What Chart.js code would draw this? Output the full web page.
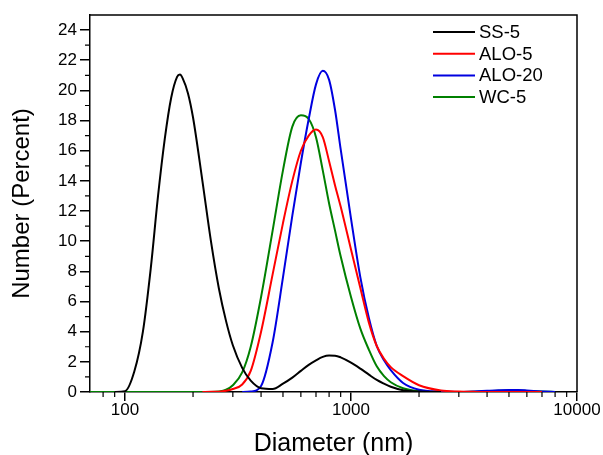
<!DOCTYPE html>
<html><head><meta charset="utf-8">
<script src="https://cdn.jsdelivr.net/npm/chart.js@4/dist/chart.umd.min.js"></script>
<style>html,body{margin:0;padding:0;background:#fff}#wrap{width:603px;height:455px}canvas{display:block}</style>
</head><body><div id="wrap"><canvas id="c" width="603" height="455"></canvas></div>
<script>
// Diameter grid (nm)
const diameters = [70, 80, 90, 100, 110, 120, 130, 140, 150, 160, 170, 175, 180, 190, 200, 220, 240, 260, 280, 300, 330, 360, 400, 450, 500, 550, 600, 650, 700, 750, 800, 850, 900, 1000, 1100, 1200, 1300, 1400, 1500, 1700, 2000, 2500, 3000, 3500, 4000, 4500, 5000, 5500, 6000, 7000, 8000];
// Number (Percent) for each series
const ss5   = [null, null, 0, 0.05, 1.37, 4.0, 8.2, 13.0, 16.8, 19.5, 20.9, 21.05, 20.8, 19.8, 18.2, 14.0, 10.0, 6.9, 4.7, 3.1, 1.6, 0.75, 0.25, 0.2, 0.55, 0.95, 1.4, 1.8, 2.1, 2.33, 2.42, 2.41, 2.3, 1.95, 1.55, 1.15, 0.8, 0.55, 0.35, 0.12, 0.03, 0, null, null, null, null, null, null, null, null, null];
const alo5  = [null, null, null, null, null, null, null, null, null, null, null, null, null, null, null, 0, 0.01, 0.02, 0.08, 0.2, 0.5, 1.4, 4.0, 7.8, 11.2, 14.0, 16.0, 17.0, 17.4, 16.9, 15.3, 13.7, 12.3, 9.45, 6.9, 4.6, 3.05, 2.2, 1.65, 1.05, 0.45, 0.1, 0.03, 0.01, 0, 0, 0, 0, 0, 0, null];
const alo20 = [null, null, null, null, null, null, null, null, null, null, null, null, null, null, null, null, null, null, null, null, 0, 0.03, 0.4, 3.3, 7.6, 11.7, 15.2, 18.1, 20.4, 21.3, 20.7, 18.7, 16.1, 11.5, 7.6, 4.9, 3.05, 2.1, 1.45, 0.6, 0.15, 0.03, 0, 0.03, 0.08, 0.12, 0.14, 0.13, 0.1, 0.04, 0];
const wc5   = [0, 0, 0, 0, 0, 0, 0, 0, 0, 0, 0, 0, 0, 0, 0, 0, 0, 0.03, 0.15, 0.45, 1.3, 3.0, 6.3, 10.7, 14.7, 17.6, 18.35, 18.1, 16.9, 14.7, 12.5, 10.7, 9.0, 6.3, 4.2, 2.8, 1.7, 1.05, 0.65, 0.25, 0.06, 0, 0, 0.02, 0.05, 0.08, 0.1, 0.09, 0.07, 0.03, 0];

const seriesNames  = ['SS-5', 'ALO-5', 'ALO-20', 'WC-5'];
const seriesValues = [ss5, alo5, alo20, wc5];
const seriesColors = ['#000000', '#ff0000', '#0000e0', '#008000'];

const xMajorTicks = [100, 1000, 10000];
const xMinorTicks = [80, 90, 200, 300, 400, 500, 600, 700, 800, 900, 2000, 3000, 4000, 5000, 6000, 7000, 8000, 9000];
const yMajorTicks = [0, 2, 4, 6, 8, 10, 12, 14, 16, 18, 20, 22, 24];
const yMinorTicks = [1, 3, 5, 7, 9, 11, 13, 15, 17, 19, 21, 23];

const FONT = "'Liberation Sans', Arial, sans-serif";

const framePlugin = {
  id: 'frame',
  afterDraw(chart) {
    const {ctx, chartArea: a, scales: {x, y}} = chart;
    ctx.save();
    ctx.strokeStyle = '#000';
    ctx.lineWidth = 1.5;
    ctx.beginPath();
    ctx.moveTo(a.left, a.top); ctx.lineTo(a.right, a.top); ctx.lineTo(a.right, a.bottom);
    ctx.stroke();
    ctx.lineWidth = 1.2;
    ctx.beginPath();
    xMinorTicks.forEach(v => { const p = x.getPixelForValue(v); ctx.moveTo(p, a.bottom); ctx.lineTo(p, a.bottom + 5); });
    yMinorTicks.forEach(v => { const p = y.getPixelForValue(v); ctx.moveTo(a.left - 5, p); ctx.lineTo(a.left, p); });
    ctx.stroke();
    // legend
    const lx = a.right - 144, ly = a.top + 17, step = 21.7;
    ctx.font = '18.5px ' + FONT;
    ctx.textBaseline = 'middle';
    ctx.textAlign = 'left';
    chart.data.datasets.forEach((ds, i) => {
      const yy = ly + i * step;
      ctx.strokeStyle = ds.borderColor; ctx.lineWidth = 2;
      ctx.beginPath(); ctx.moveTo(lx, yy); ctx.lineTo(lx + 42, yy); ctx.stroke();
      ctx.fillStyle = '#000';
      ctx.fillText(ds.label, lx + 46, yy + 1);
    });
    ctx.restore();
  }
};

new Chart(document.getElementById('c'), {
  type: 'line',
  data: {
    datasets: seriesNames.map((name, i) => ({
      label: name,
      data: diameters.map((d, j) => ({x: d, y: seriesValues[i][j]})),
      borderColor: seriesColors[i],
      backgroundColor: seriesColors[i],
      borderWidth: 2,
      pointRadius: 0,
      fill: false,
      cubicInterpolationMode: 'monotone',
      spanGaps: false
    }))
  },
  options: {
    responsive: false,
    animation: false,
    devicePixelRatio: 1,
    layout: {padding: {top: 15, right: 26, bottom: 0, left: 0}},
    plugins: {legend: {display: false}, tooltip: {enabled: false}},
    scales: {
      x: {
        type: 'logarithmic', min: 70, max: 10000,
        afterBuildTicks: s => { s.ticks = xMajorTicks.map(v => ({value: v})); },
        afterFit: s => { s.height = 63; },
        ticks: {callback: v => String(v), color: '#000', font: {family: FONT, size: 17, lineHeight: 1}, padding: 1, maxRotation: 0, autoSkip: false},
        grid: {drawOnChartArea: false, drawTicks: true, tickLength: 9, color: '#000', lineWidth: 1.5},
        border: {display: true, color: '#000', width: 1.5},
        title: {display: true, text: 'Diameter (nm)', color: '#000', font: {family: FONT, size: 25, lineHeight: 0.8}, padding: {top: 0, bottom: 1}}
      },
      y: {
        type: 'linear', min: 0, max: 25,
        afterBuildTicks: s => { s.ticks = yMajorTicks.map(v => ({value: v})); },
        afterFit: s => { s.width = 90; },
        ticks: {color: '#000', font: {family: FONT, size: 17, lineHeight: 1}, padding: 3},
        grid: {drawOnChartArea: false, drawTicks: true, tickLength: 10, color: '#000', lineWidth: 1.5},
        border: {display: true, color: '#000', width: 1.5},
        title: {display: true, text: 'Number (Percent)', color: '#000', font: {family: FONT, size: 24, lineHeight: 1}, padding: {top: 10, bottom: 0}}
      }
    }
  },
  plugins: [framePlugin]
});
</script>
</body></html>
